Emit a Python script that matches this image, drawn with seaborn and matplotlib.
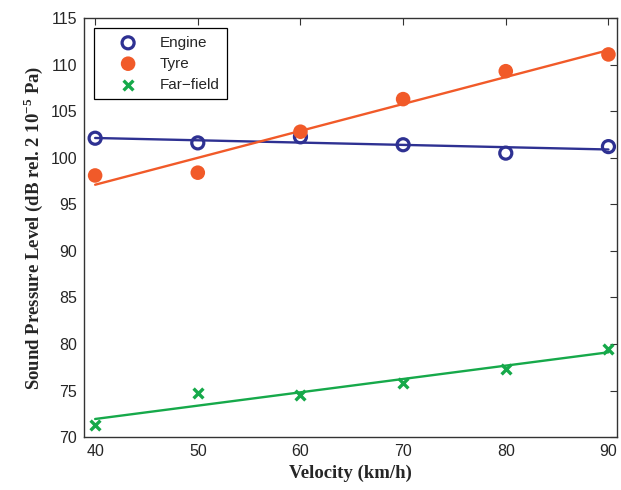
import seaborn as sns
import matplotlib.pyplot as plt
import pandas as pd
import numpy as np

velocity = [40, 50, 60, 70, 80, 90]
engine = [102.1, 101.6, 102.25, 101.4, 100.5, 101.2]
tyre = [98.1, 98.4, 102.8, 106.3, 109.3, 111.1]
farfield = [71.25, 74.75, 74.55, 75.8, 77.3, 79.5]

sns.set_style("white")
plt.rcParams['font.family'] = ['Liberation Sans', 'DejaVu Sans']
plt.rcParams['mathtext.fontset'] = 'custom'
plt.rcParams['mathtext.rm'] = 'Liberation Serif:bold'
plt.rcParams['mathtext.bf'] = 'Liberation Serif:bold'

df = pd.DataFrame({"Velocity": velocity, "Engine": engine, "Tyre": tyre, "Far-field": farfield})

fig = plt.figure(figsize=(6.21, 4.9), dpi=100)
ax = fig.add_axes([0.135, 0.108, 0.858, 0.855])

blue = "#2E3192"
orange = "#F15A29"
green = "#16A94A"

# fitted lines
for col, c in [("Engine", blue), ("Tyre", orange), ("Far-field", green)]:
    sns.regplot(data=df, x="Velocity", y=col, ci=None, ax=ax, scatter=False,
                line_kws={"color": c, "lw": 1.7})

# measurements
sns.scatterplot(data=df, x="Velocity", y="Engine", ax=ax, marker="o", s=75,
                facecolors="none", edgecolor=blue, linewidth=2.3, label="Engine", zorder=3)
sns.scatterplot(data=df, x="Velocity", y="Tyre", ax=ax, marker="o", s=110,
                color=orange, edgecolor="none", label="Tyre", zorder=4)
sns.scatterplot(data=df, x="Velocity", y="Far-field", ax=ax, marker="x", s=50,
                color=green, linewidth=2.4, label="Far\u2212field", zorder=3)

ax.set_xlim(38.9, 90.8)
ax.set_ylim(70, 115)
ax.set_xticks(range(40, 91, 10))
ax.set_yticks(range(70, 116, 5))
ax.tick_params(direction="in", top=True, right=True, length=5, width=0.8, labelsize=11.5,
               color="#333333", pad=5)
for s in ax.spines.values():
    s.set_color("#333333")
    s.set_linewidth(1.0)

ax.set_xlabel("Velocity (km/h)", family="Liberation Serif", fontweight="bold", fontsize=13.5)
ax.set_ylabel("Sound Pressure Level (dB rel. 2 10$^{-5}$ Pa)", family="Liberation Serif",
              fontweight="bold", fontsize=13.5)

leg = ax.legend(loc="upper left", fontsize=11, frameon=True, fancybox=False,
                edgecolor="black", borderpad=0.5, handlelength=3.4, handletextpad=0.35,
                labelspacing=0.45, borderaxespad=0, bbox_to_anchor=(0.02, 0.976), framealpha=1)
leg.get_frame().set_linewidth(0.9)

plt.savefig("out.png", dpi=100)
